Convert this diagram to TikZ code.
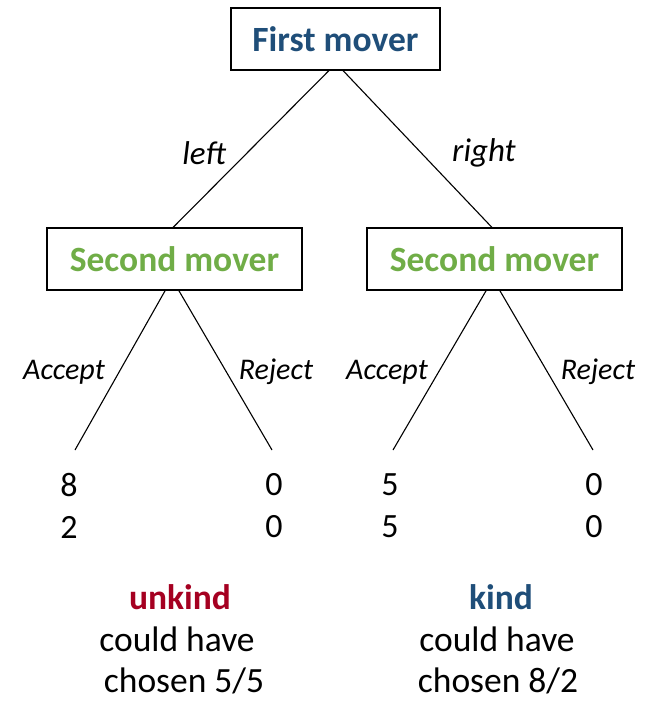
\documentclass[tikz,border=0pt]{standalone}
\usepackage{fontspec}
\setmainfont{Carlito}
\definecolor{moverblue}{HTML}{1F4E79}
\definecolor{movergreen}{HTML}{70AD47}
\definecolor{unkindred}{HTML}{A50021}
\begin{document}
\begin{tikzpicture}[x=1pt,y=-1pt,
  every node/.style={inner sep=0pt,outer sep=0pt},
  player/.style={draw,line width=1.2pt,font=\fontsize{35.5}{40}\selectfont\bfseries,minimum height=62pt},
  move/.style={font=\fontsize{33}{38}\selectfont\itshape},
  choice/.style={font=\fontsize{30}{34}\selectfont\itshape},
  payoff/.style={font=\fontsize{34}{40}\selectfont},
  note/.style={font=\fontsize{35.5}{42}\selectfont,anchor=base},
  branch/.style={line width=1.1pt}]
\useasboundingbox (0,0) rectangle (648,701);

% players
\node[player,text=moverblue,minimum width=209pt] (first) at (335.5,39) {First mover};
\node[player,text=movergreen,minimum width=255pt] (secL) at (174.5,259) {Second mover};
\node[player,text=movergreen,minimum width=255pt] (secR) at (494.5,259) {Second mover};

% end points of the second movers' branches
\coordinate (aL) at (75,450);
\coordinate (rL) at (272,450);
\coordinate (aR) at (393,450);
\coordinate (rR) at (593,450);

% first mover's branches
\draw[branch] ([xshift=-6pt]first.south) -- ([xshift=-2pt]secL.north);
\draw[branch] ([xshift=7pt]first.south) -- ([xshift=-2pt]secR.north);

% second movers' branches
\draw[branch] ([xshift=-9pt]secL.south) -- (aL);
\draw[branch] ([xshift=4pt]secL.south) -- (rL);
\draw[branch] ([xshift=-8pt]secR.south) -- (aR);
\draw[branch] ([xshift=5pt]secR.south) -- (rR);

% move labels
\node[move] (lleft) at (204,153) {left};
\node[move] (lright) at (484,153) {right};
\node[choice] (accL) at (64,372) {Accept};
\node[choice] (rejL) at (276,372) {Reject};
\node[choice] (accR) at (387,372) {Accept};
\node[choice] (rejR) at (598,372) {Reject};

% payoffs
\node[payoff] (p1) at (69,485) {8};
\node[payoff] (p2) at (69,527) {2};
\node[payoff] (p3) at (274,485) {0};
\node[payoff] (p4) at (274,527) {0};
\node[payoff] (p5) at (390,485) {5};
\node[payoff] (p6) at (390,527) {5};
\node[payoff] (p7) at (594,485) {0};
\node[payoff] (p8) at (594,527) {0};

% verdicts, one line per node
\node[note,text=unkindred,font=\fontsize{35.5}{42}\selectfont\bfseries] (unkind) at (180,609) {unkind};
\node[note] (unkind2) at (177,651) {could have};
\node[note] (unkind3) at (184,692) {chosen 5/5};
\node[note,text=moverblue,font=\fontsize{35.5}{42}\selectfont\bfseries] (kind) at (501,609) {kind};
\node[note] (kind2) at (497,651) {could have};
\node[note] (kind3) at (498,692) {chosen 8/2};
\end{tikzpicture}
\end{document}
